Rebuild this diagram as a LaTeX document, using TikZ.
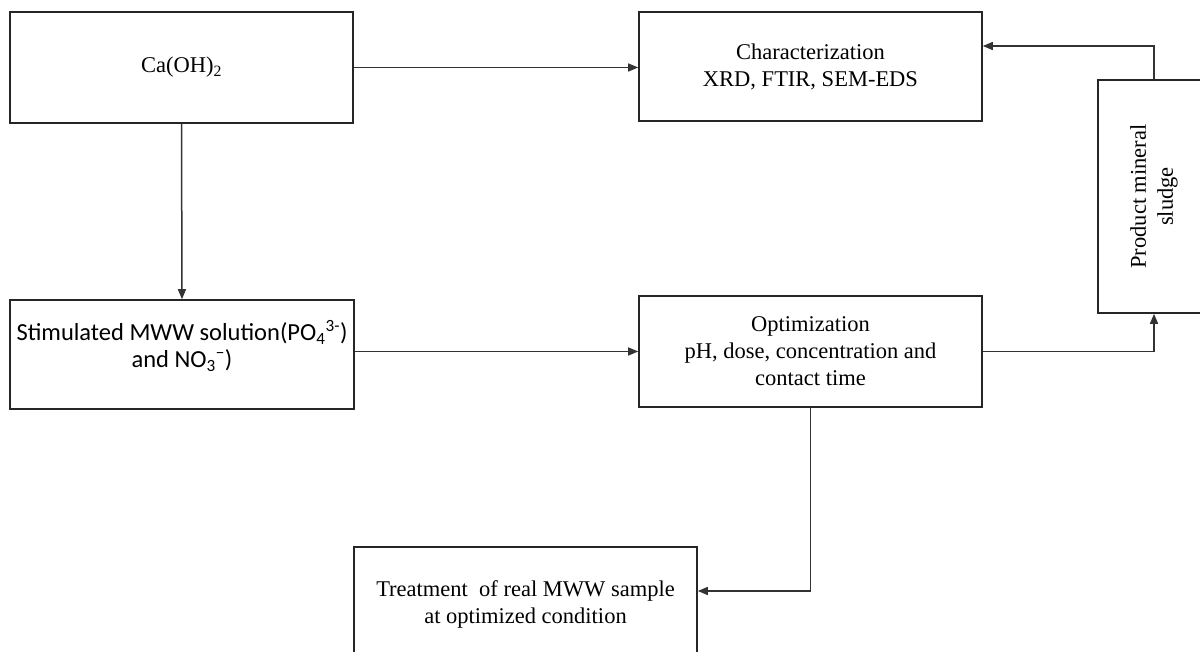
\documentclass[tikz,border=0pt]{standalone}
\usepackage{fontspec}
\setmainfont{Liberation Serif}
\newfontfamily\calfont{Carlito}
\usetikzlibrary{arrows.meta}
\begin{document}
\begin{tikzpicture}[x=1pt,y=1pt,
  box/.style={draw=black!85, line width=1.6pt, rectangle, inner sep=0pt, align=center,
    font=\fontsize{22.5}{27}\selectfont, text=black},
  arr/.style={draw=black!80, line width=1.5pt, -{Triangle[length=10pt,width=8pt]}}]
\useasboundingbox (0,0) rectangle (1200,651);
\clip (0,0) rectangle (1200,651);
\node[box, minimum width=343pt, minimum height=111pt] (ca) at (181.5,583.5) {Ca(OH)\textsubscript{2}};
\node[box, minimum width=343pt, minimum height=109pt] (char) at (810.5,584.5) {Characterization\\XRD, FTIR, SEM-EDS};
\node[box, minimum width=344pt, minimum height=109pt, font=\calfont\fontsize{24.5}{27}\selectfont] (stim) at (182,296.5)
  {Stimulated MWW solution(PO\textsubscript{4}\textsuperscript{3-})\\and NO\textsubscript{3}\textsuperscript{\char"2212})\rule[-21pt]{0pt}{21pt}};
\node[box, minimum width=343pt, minimum height=111pt] (opt) at (810.5,299.5) {Optimization\\pH, dose, concentration and\\contact time};
\node[box, rotate=90, minimum width=233pt, minimum height=112pt] (prod) at (1154,454.5) {Product mineral\\sludge};
\node[box, minimum width=343pt, minimum height=114pt] (treat) at (525.5,47) {Treatment\ \ of real MWW sample\\at optimized condition};
\draw[arr] (ca.east) -- (ca.east -| char.west);
\draw[arr] (ca.south) -- (stim.north);
\draw[arr] (stim.east |- opt.west) -- (opt.west);
\draw[arr] (opt.east) -| (prod.west);
\draw[arr] (prod.east) |- ([yshift=20.5pt]char.east);
\draw[arr] (opt.south) |- ([yshift=13pt]treat.east);
\end{tikzpicture}
\end{document}
